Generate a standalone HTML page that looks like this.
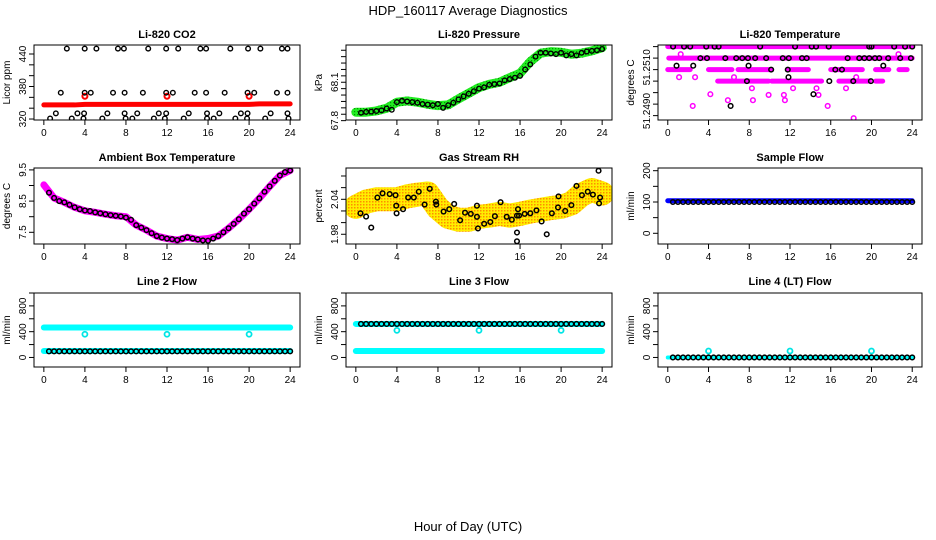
<!DOCTYPE html>
<html><head><meta charset="utf-8"><style>
html,body{margin:0;padding:0;background:#fff;}
svg{display:block;font-family:"Liberation Sans",sans-serif;}
</style></head><body>
<svg id="chart" width="936" height="540" viewBox="0 0 936 540" xmlns="http://www.w3.org/2000/svg">
<defs>
<pattern id="rhDots" width="3" height="3" patternUnits="userSpaceOnUse">
<rect width="3" height="3" fill="#ffee00"/><rect width="1.5" height="1.5" fill="#ff8c00"/>
</pattern>
<pattern id="grDots" width="3" height="3" patternUnits="userSpaceOnUse">
<rect width="3" height="3" fill="#22ee22"/><rect width="1.2" height="1.2" fill="#009900"/>
</pattern>
</defs>
<text x="468" y="15" text-anchor="middle" font-size="13">HDP_160117  Average Diagnostics</text>
<text x="468" y="531" text-anchor="middle" font-size="13">Hour of Day (UTC)</text>
</svg>
<script>
// ---------- data ----------
const hours = [0,1,2,3,4,5,6,7,8,9,10,11,12,13,14,15,16,17,18,19,20,21,22,23,24];
const halfHours = [0.5,1,1.5,2,2.5,3,3.5,4,4.5,5,5.5,6,6.5,7,7.5,8,8.5,9,9.5,10,10.5,11,11.5,12,12.5,13,13.5,14,14.5,15,15.5,16,16.5,17,17.5,18,18.5,19,19.5,20,20.5,21,21.5,22,22.5,23,23.5,24];
const xTicks = [0,4,8,12,16,20,24];

// CO2
const co2Band = [346,346,346,346,347,347,347,347,347,347,347,347,347,347,347,347,347,347,347,347,347,348,348,348,348];
const co2RedHours = [4,12,20];
const co2RedVals = [362,362,362];
const co2TopHours = [2.24,3.98,5.12,7.22,7.8,10.17,11.92,13.09,15.25,15.81,18.17,19.9,21.1,23.2,23.74];
const co2MidHours = [1.65,3.98,4.57,6.74,7.87,9.65,11.92,12.57,14.7,15.81,17.62,19.85,20.5,22.71,23.74];
const co2LowHours = [1.17,3.27,3.92,6.19,7.87,9.1,11.2,11.92,14.12,15.9,17.1,19.2,19.85,22.1,23.74];
const co2BotHours = [0.61,2.72,3.86,5.7,7.97,8.62,10.72,11.79,13.63,15.9,16.55,18.66,19.8,21.57,23.84];
const co2TopVal = 450, co2MidVal = 368.6, co2LowVal = 330.5, co2BotVal = 321;

// Pressure
const presBand = [67.866,67.866,67.876,67.897,67.944,67.954,67.944,67.928,67.917,67.923,67.970,68.014,68.058,68.084,68.100,68.136,68.170,68.261,68.327,68.339,68.334,68.319,68.327,68.345,68.370];
const presBlack = [67.862,67.868,67.87,67.875,67.88,67.895,67.885,67.945,67.955,67.95,67.945,67.94,67.93,67.925,67.92,67.93,67.9,67.92,67.94,67.965,67.99,68.01,68.03,68.05,68.06,68.08,68.085,68.09,68.115,68.125,68.135,68.15,68.2,68.24,68.3,68.33,68.33,68.325,68.32,68.33,68.31,68.32,68.31,68.33,68.34,68.345,68.35,68.36];

// Li-820 temperature
const tempRowLevels = [51.2520,51.2515,51.2510,51.2505];
const tempRowSegs = [
  [[0,24]],
  [[0.1,24]],
  [[0,2.2],[4,6.3],[6.9,10.2],[11.8,13.8],[16,19.1],[20.4,21.7],[22.7,23.5]],
  [[4.9,9.9],[10.2,15.1],[16.8,19.8],[20.4,21.1]]
];
const tempPinkHours = [1.27,1.11,2.68,4.18,2.45,5.9,6.5,8.36,8.26,9.9,11.4,11.5,12.3,14.6,14.8,15.7,17.5,18.5,18.25,22.65];
const tempPinkVals = [51.25167,51.25067,51.25067,51.24993,51.24942,51.24967,51.25067,51.24967,51.25019,51.2499,51.2499,51.24967,51.25019,51.25019,51.2499,51.24942,51.25019,51.25067,51.24889,51.25167];
const tempBlackHours = [0.52,1.6,2.2,3.78,4.6,4.99,9.07,12.5,14.13,14.56,15.8,19.78,20,22.23,23.3,24.0,
  3.2,3.85,5.65,6.72,7.31,7.87,8.58,9.66,11.29,11.88,13.18,13.64,17.66,18.8,19.3,19.78,20.34,20.76,21.64,22.82,23.87,
  0.86,2.5,7.93,21.16,10.15,11.78,16.45,17.1,11.85,7.77,15.86,18.21,19.94,14.3,6.17];
const tempBlackVals = [51.2520,51.2520,51.2520,51.2520,51.2520,51.2520,51.2520,51.2520,51.2520,51.2520,51.2520,51.2520,51.2520,51.2520,51.2520,51.2520,
  51.2515,51.2515,51.2515,51.2515,51.2515,51.2515,51.2515,51.2515,51.2515,51.2515,51.2515,51.2515,51.2515,51.2515,51.2515,51.2515,51.2515,51.2515,51.2515,51.2515,51.2515,
  51.25117,51.25117,51.25117,51.25117,51.2510,51.2510,51.2510,51.2510,51.25067,51.2505,51.2505,51.2505,51.2505,51.24993,51.24942];

// Ambient
const ambBand = [9.02,8.6,8.46,8.3,8.19,8.14,8.08,8.03,8.0,7.73,7.57,7.38,7.3,7.25,7.34,7.27,7.3,7.38,7.63,7.92,8.24,8.59,8.97,9.32,9.48];
const ambBlack = [8.77,8.6,8.5,8.46,8.38,8.3,8.24,8.2,8.18,8.14,8.11,8.08,8.05,8.03,8.01,7.97,7.9,7.73,7.65,7.57,7.47,7.38,7.33,7.3,7.28,7.25,7.3,7.34,7.3,7.27,7.24,7.23,7.3,7.38,7.5,7.63,7.77,7.92,8.1,8.24,8.42,8.59,8.8,8.97,9.15,9.32,9.43,9.48];

// RH
const rhBand = [2.027,2.036,2.04,2.04,2.04,2.045,2.048,2.05,2.025,2.01,2.005,2.005,2.01,2.012,2.015,2.012,2.015,2.019,2.022,2.025,2.027,2.033,2.048,2.056,2.05];
const rhBlackHours = [0.45,1.0,1.5,2.1,2.6,3.3,3.87,3.94,3.97,4.6,5.1,5.65,6.13,6.7,7.2,7.8,7.84,8.55,9.1,9.58,10.16,10.64,11.2,11.8,11.8,11.9,12.5,13.1,13.55,14.1,14.7,15.2,15.7,15.8,15.7,15.7,15.9,16.45,17,17.6,18.1,18.6,19.1,19.7,19.75,20.4,21,21.5,22.03,22.6,23.1,23.65,23.7,23.8];
const rhBlackVals = [2.016,2.0103,1.9915,2.0429,2.0503,2.049,2.047,2.029,2.016,2.023,2.043,2.043,2.053,2.031,2.058,2.036,2.031,2.019,2.023,2.032,2.004,2.017,2.015,2.029,2.01,1.99,1.998,2.001,2.011,2.035,2.01,2.005,2.012,2.023,1.983,1.968,2.012,2.015,2.016,2.021,2.002,1.98,2.016,2.026,2.045,2.02,2.03,2.063,2.047,2.053,2.048,2.089,2.033,2.043];

// Sample flow
const sampleBand = [104,104,104,104,104,104,104,104,104,104,104,104,104,104,104,104,104,104,104,104,104,104,104,104,104];
const sampleBlack = [100,100,100,100,100,100,100,100,100,100,100,100,100,100,100,100,100,100,100,100,100,100,100,100,100,100,100,100,100,100,100,100,100,100,100,100,100,100,100,100,100,100,100,100,100,100,100,100];

// Line 2
const l2Top = [465,465,465,465,465,465,465,465,465,465,465,465,465,465,465,465,465,465,465,465,465,465,465,465,465];
const l2Low = [100,100,100,100,100,100,100,100,100,100,100,100,100,100,100,100,100,100,100,100,100,100,100,100,100];
const l2Black = [95,95,95,95,95,95,95,95,95,95,95,95,95,95,95,95,95,95,95,95,95,95,95,95,95,95,95,95,95,95,95,95,95,95,95,95,95,95,95,95,95,95,95,95,95,95,95,95];
const outHours = [4,12,20];
const l2Out = [360,360,360];

// Line 3
const l3Top = [520,520,520,520,520,520,520,520,520,520,520,520,520,520,520,520,520,520,520,520,520,520,520,520,520];
const l3Low = [100,100,100,100,100,100,100,100,100,100,100,100,100,100,100,100,100,100,100,100,100,100,100,100,100];
const l3Black = [520,520,520,520,520,520,520,520,520,520,520,520,520,520,520,520,520,520,520,520,520,520,520,520,520,520,520,520,520,520,520,520,520,520,520,520,520,520,520,520,520,520,520,520,520,520,520,520];
const l3Out = [420,420,420];

// Line 4
const l4Band = [0,0,0,0,0,0,0,0,0,0,0,0,0,0,0,0,0,0,0,0,0,0,0,0,0];
const l4Black = [0,0,0,0,0,0,0,0,0,0,0,0,0,0,0,0,0,0,0,0,0,0,0,0,0,0,0,0,0,0,0,0,0,0,0,0,0,0,0,0,0,0,0,0,0,0,0,0];
const l4Out = [100,100,100];

// ---------- drawing ----------
const NS = "http://www.w3.org/2000/svg";
const svg = document.getElementById("chart");
function mk(tag, parent, name) {
  const e = document.createElementNS(NS, tag);
  
  
  parent.appendChild(e);
  return e;
}
const cols = [[34,300],[346,612],[658,922]];
const rows = [[45,120,38],[168,244,161],[293,367,285]];

function panel(name, c, r, ylo, yhi, yticks, ylabels, title, ytitle, ylabelVals) {
  const [x0,x1] = cols[c], [y0,y1,ty] = rows[r];
  const g = mk('g', svg, name + '-panel');
  const sx = h => x0 + (h + 0.96) * (x1 - x0) / 25.92;
  const sy = v => y1 - (v - ylo) * (y1 - y0) / (yhi - ylo);
  const t = mk('text', g, name + '-title');
  t.setAttribute('x', (x0+x1)/2); t.setAttribute('y', ty);
  t.setAttribute('text-anchor','middle'); t.setAttribute('font-size','11'); t.setAttribute('font-weight','bold');
  t.textContent = title;
  const yt = mk('text', g, name + '-y-axis-title');
  yt.setAttribute('transform', `translate(${x0-24},${(y0+y1)/2}) rotate(-90)`);
  yt.setAttribute('text-anchor','middle'); yt.setAttribute('font-size','10');
  yt.textContent = ytitle;
  const data = mk('g', g, name + '-plot-area');
  const clip = mk('clipPath', svg, name + '-clip');
  clip.setAttribute('id', name + 'Clip');
  const cr = mk('rect', clip, name + '-clip-rect');
  cr.setAttribute('x', x0); cr.setAttribute('y', y0); cr.setAttribute('width', x1-x0); cr.setAttribute('height', y1-y0);
  data.setAttribute('clip-path', `url(#${name}Clip)`);
  const box = mk('rect', g, name + '-frame');
  box.setAttribute('x', x0); box.setAttribute('y', y0); box.setAttribute('width', x1-x0); box.setAttribute('height', y1-y0);
  box.setAttribute('fill','none'); box.setAttribute('stroke','#000'); box.setAttribute('stroke-width','1');
  xTicks.forEach(h => {
    const l = mk('line', g, name + '-x-tick');
    l.setAttribute('x1', sx(h)); l.setAttribute('x2', sx(h)); l.setAttribute('y1', y1); l.setAttribute('y2', y1+5);
    l.setAttribute('stroke','#000');
    const tx = mk('text', g, name + '-x-tick-label');
    tx.setAttribute('x', sx(h)); tx.setAttribute('y', y1+16); tx.setAttribute('text-anchor','middle'); tx.setAttribute('font-size','10');
    tx.textContent = h;
  });
  yticks.forEach(v => {
    const l = mk('line', g, name + '-y-tick');
    l.setAttribute('x1', x0-5); l.setAttribute('x2', x0); l.setAttribute('y1', sy(v)); l.setAttribute('y2', sy(v));
    l.setAttribute('stroke','#000');
  });
  ylabels.forEach((v, i) => {
    const pos = ylabelVals ? ylabelVals[i] : v;
    const tx = mk('text', g, name + '-y-tick-label');
    tx.setAttribute('transform', `translate(${x0-8},${sy(pos)}) rotate(-90)`);
    tx.setAttribute('text-anchor','middle'); tx.setAttribute('font-size','10');
    tx.textContent = v;
  });
  return {g: data, sx, sy};
}
function band(p, xs, ys, color, w, name) {
  const pl = mk('polyline', p.g, name);
  pl.setAttribute('points', xs.map((h,i) => p.sx(h) + ',' + p.sy(ys[i])).join(' '));
  pl.setAttribute('fill','none'); pl.setAttribute('stroke', color); pl.setAttribute('stroke-width', w);
  pl.setAttribute('stroke-linecap','round'); pl.setAttribute('stroke-linejoin','round');
}
function pts(p, xs, ys, color, r, sw, name) {
  xs.forEach((h,i) => {
    const c = mk('circle', p.g, name);
    c.setAttribute('cx', p.sx(h)); c.setAttribute('cy', p.sy(ys[i])); c.setAttribute('r', r);
    c.setAttribute('fill','none'); c.setAttribute('stroke', color); c.setAttribute('stroke-width', sw);
  });
}
const rep = (arr, v) => arr.map(() => v);

// CO2
let p = panel('co2', 0, 0, 318.2, 456.6, [320,340,360,380,400,420,440], [320,380,440], 'Li-820 CO2', 'Licor ppm');
band(p, hours, co2Band, '#ff0000', 5, 'co2-red-band');
pts(p, co2RedHours, co2RedVals, '#ff0000', 2.5, 2, 'co2-red-point');
pts(p, co2TopHours, rep(co2TopHours, co2TopVal), '#000', 2.3, 1.4, 'co2-black-point');
pts(p, co2MidHours, rep(co2MidHours, co2MidVal), '#000', 2.3, 1.4, 'co2-black-point');
pts(p, co2LowHours, rep(co2LowHours, co2LowVal), '#000', 2.3, 1.4, 'co2-black-point');
pts(p, co2BotHours, rep(co2BotHours, co2BotVal), '#000', 2.3, 1.4, 'co2-black-point');

// Pressure
p = panel('pressure', 1, 0, 67.805, 68.391, [67.8,67.85,67.9,67.95,68.0,68.05,68.1,68.15,68.2,68.25,68.3,68.35], [67.8,68.1], 'Li-820 Pressure', 'kPa');
band(p, hours, presBand, 'url(#grDots)', 9, 'pressure-green-band');
pts(p, halfHours, presBlack, '#000', 2.3, 1.4, 'pressure-black-point');

// Temperature
p = panel('temp', 2, 0, 51.24881, 51.25207, [51.249,51.2495,51.25,51.2505,51.251,51.2515,51.252], ['51.2490','51.2510'], 'Li-820 Temperature', 'degrees C', [51.2492, 51.2511]);
tempRowSegs.forEach((segs, ri) => segs.forEach(s => band(p, s, [tempRowLevels[ri], tempRowLevels[ri]], '#ff00ff', 5, 'temp-pink-row')));
pts(p, tempPinkHours, tempPinkVals, '#ff00ff', 2.3, 1.5, 'temp-pink-point');
pts(p, tempBlackHours, tempBlackVals, '#000', 2.3, 1.5, 'temp-black-point');

// Ambient
p = panel('ambient', 0, 1, 7.125, 9.561, [7.5,8,8.5,9,9.5], [7.5,8.5,9.5], 'Ambient Box Temperature', 'degrees C');
band(p, hours, ambBand, '#ff00ff', 7, 'ambient-pink-band');
pts(p, halfHours, ambBlack, '#000', 2.3, 1.5, 'ambient-black-point');

// RH
p = panel('rh', 1, 1, 1.9633, 2.0937, [1.98,2.0,2.02,2.04,2.06,2.08], [1.98,2.04], 'Gas Stream RH', 'percent');
band(p, hours, rhBand, 'url(#rhDots)', 24, 'rh-yellow-band');
pts(p, rhBlackHours, rhBlackVals, '#000', 2.3, 1.5, 'rh-black-point');

// Sample flow
p = panel('sample', 2, 1, -34.2, 208.6, [0,50,100,150,200], [0,100,200], 'Sample Flow', 'ml/min');
band(p, hours, sampleBand, '#0000ff', 5, 'sample-blue-band');
pts(p, halfHours, sampleBlack, '#000', 2.3, 1.5, 'sample-black-point');

// Line 2
p = panel('line2', 0, 2, -148, 1000, [0,200,400,600,800,1000], [0,400,800], 'Line 2 Flow', 'ml/min');
band(p, hours, l2Top, '#00ffff', 6, 'line2-cyan-band');
band(p, hours, l2Low, '#00ffff', 6, 'line2-cyan-low-band');
pts(p, outHours, l2Out, '#00e5e5', 2.5, 1.8, 'line2-cyan-outlier');
pts(p, halfHours, l2Black, '#000', 2.3, 1.5, 'line2-black-point');

// Line 3
p = panel('line3', 1, 2, -148, 1000, [0,200,400,600,800,1000], [0,400,800], 'Line 3 Flow', 'ml/min');
band(p, hours, l3Top, '#00ffff', 6, 'line3-cyan-band');
band(p, hours, l3Low, '#00ffff', 6, 'line3-cyan-low-band');
pts(p, outHours, l3Out, '#00e5e5', 2.5, 1.8, 'line3-cyan-outlier');
pts(p, halfHours, l3Black, '#000', 2.3, 1.5, 'line3-black-point');

// Line 4
p = panel('line4', 2, 2, -148, 1000, [0,200,400,600,800,1000], [0,400,800], 'Line 4 (LT) Flow', 'ml/min');
band(p, hours, l4Band, '#00ffff', 4, 'line4-cyan-band');
pts(p, outHours, l4Out, '#00e5e5', 2.5, 1.8, 'line4-cyan-outlier');
pts(p, halfHours, l4Black, '#000', 2.3, 1.5, 'line4-black-point');
</script>
</body></html>
